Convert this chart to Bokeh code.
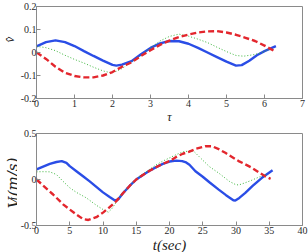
from bokeh.plotting import figure
from bokeh.models import Label, FixedTicker
from bokeh.layouts import column, row
from bokeh.embed import file_html
from bokeh.resources import INLINE

# ---- top panel data (tau, v-hat) ----
top_blue_x = [0, 0.25, 0.5, 0.75, 1.0, 1.25, 1.5, 1.75, 2.0, 2.1, 2.25, 2.5, 2.75, 3.0, 3.25, 3.5, 3.75, 4.0, 4.25, 4.5, 4.75, 5.0, 5.25, 5.4, 5.6, 5.8, 6.0, 6.3]
top_blue_y = [0.027, 0.045, 0.053, 0.045, 0.028, 0.006, -0.015, -0.035, -0.054, -0.057, -0.053, -0.038, -0.008, 0.02, 0.04, 0.05, 0.049, 0.038, 0.02, 0.0, -0.02, -0.04, -0.057, -0.055, -0.036, -0.012, 0.006, 0.028]
top_green_x = [0, 0.25, 0.5, 0.75, 1.0, 1.25, 1.5, 1.75, 1.95, 2.1, 2.25, 2.5, 2.75, 3.0, 3.25, 3.5, 3.75, 4.0, 4.25, 4.5, 4.75, 5.0, 5.25, 5.45, 5.7, 5.9, 6.1, 6.2]
top_green_y = [0.027, 0.021, 0.008, -0.012, -0.03, -0.046, -0.064, -0.08, -0.088, -0.082, -0.07, -0.04, -0.013, 0.02, 0.05, 0.07, 0.08, 0.071, 0.058, 0.043, 0.023, 0.004, -0.013, -0.016, -0.01, -0.002, 0.012, 0.013]
top_red_x = [0, 0.25, 0.5, 0.75, 1.0, 1.25, 1.5, 1.75, 2.0, 2.25, 2.5, 2.75, 3.0, 3.25, 3.5, 3.75, 4.0, 4.25, 4.5, 4.75, 5.0, 5.25, 5.5, 5.75, 6.0, 6.3]
top_red_y = [0.0, -0.028, -0.062, -0.088, -0.102, -0.108, -0.108, -0.1, -0.085, -0.062, -0.043, -0.015, 0.01, 0.033, 0.052, 0.067, 0.078, 0.087, 0.092, 0.093, 0.087, 0.077, 0.064, 0.05, 0.03, 0.003]

# ---- bottom panel data (t [s], V_L [m/s]) ----
bot_blue_x = [0, 1, 2, 3, 3.8, 4.5, 5, 6, 7, 8, 9, 10, 11, 11.8, 12.3, 13, 14, 15, 16, 17, 18, 19, 20, 21, 21.9, 22.5, 23, 23.9, 25, 26, 27.4, 28.5, 29.6, 29.9, 30.5, 31.4, 32.5, 33.9, 35.5]
bot_blue_y = [0.11, 0.14, 0.17, 0.19, 0.2, 0.18, 0.145, 0.09, 0.035, -0.02, -0.08, -0.14, -0.19, -0.228, -0.215, -0.15, -0.07, 0.0, 0.05, 0.095, 0.135, 0.17, 0.195, 0.205, 0.2, 0.185, 0.16, 0.09, 0.03, -0.03, -0.11, -0.17, -0.225, -0.228, -0.2, -0.145, -0.07, 0.018, 0.1]
bot_green_x = [0, 1, 2, 3, 4, 5, 6, 7.5, 9, 10, 10.8, 11.3, 11.8, 12.3, 12.8, 14, 15, 16, 17, 18, 19, 20, 21, 22, 23, 23.6, 24.9, 26, 27.4, 29, 29.9, 30.4, 31.4, 32.4, 33.4, 34.6]
bot_green_y = [0.083, 0.085, 0.083, 0.054, -0.02, -0.09, -0.14, -0.2, -0.28, -0.326, -0.355, -0.32, -0.27, -0.2, -0.16, -0.07, 0.005, 0.06, 0.11, 0.16, 0.2, 0.235, 0.27, 0.3, 0.31, 0.31, 0.217, 0.14, 0.07, -0.02, -0.054, -0.06, -0.035, -0.007, 0.025, 0.054]
bot_red_x = [0, 1, 2.5, 4, 5, 6, 7, 7.8, 9, 10, 11, 12, 13, 14, 15, 16, 17, 18, 19, 20, 21, 22, 22.9, 24, 25.4, 26.4, 27.4, 28.4, 29.4, 30.4, 31.4, 32.4, 33.4, 34.4, 35.2]
bot_red_y = [0.0, -0.065, -0.163, -0.27, -0.326, -0.38, -0.43, -0.44, -0.41, -0.36, -0.3, -0.235, -0.15, -0.07, 0.0, 0.05, 0.095, 0.135, 0.17, 0.2, 0.245, 0.28, 0.3, 0.335, 0.362, 0.362, 0.33, 0.29, 0.245, 0.2, 0.165, 0.127, 0.08, 0.035, 0.007]

top_xticks = [0, 1, 2, 3, 4, 5, 6, 7]
top_yticks = [-0.2, -0.1, 0, 0.1, 0.2]
top_ytick_labels = ["-0.2", "-0.1", "0", "0.1", "0.2"]
bot_xticks = [0, 5, 10, 15, 20, 25, 30, 35, 40]
bot_yticks = [-0.5, 0, 0.5]
bot_ytick_labels = ["-0.5", "0", "0.5"]

BLUE = "#2a4de6"
GREEN = "#3cb43c"
RED = "#e3262d"
SERIF = "Liberation Serif"
AX = "#8a8a8a"
TXT = "#2a2a2a"
STRIP = 17


def style_axis(ax, ticks, labels=None):
    ax.ticker = FixedTicker(ticks=ticks)
    if labels is not None:
        ax.major_label_overrides = {t: s for t, s in zip(ticks, labels)}
    ax.axis_line_color = AX
    ax.major_tick_line_color = AX
    ax.major_tick_in = 4
    ax.major_tick_out = 0
    ax.minor_tick_line_color = None
    ax.major_label_standoff = 1
    ax.major_label_text_font = SERIF
    ax.major_label_text_color = TXT
    ax.major_label_text_font_size = "10px"
    ax.axis_label_text_font = SERIF
    ax.axis_label_text_font_style = "italic"
    ax.axis_label_text_color = "#222222"


def make_fig(fh, xr, yr, xt, yt, ytl, top):
    p = figure(width=308 - STRIP, frame_height=fh, x_range=xr, y_range=yr,
               output_backend="svg", toolbar_location=None,
               min_border_left=36 - STRIP, min_border_right=6,
               min_border_top=top, min_border_bottom=0)
    p.xgrid.visible = False
    p.ygrid.visible = False
    p.outline_line_color = AX
    style_axis(p.xaxis[0], xt)
    style_axis(p.yaxis[0], yt, ytl)
    p.yaxis[0].major_label_standoff = 0
    return p


def make_strip(h, items):
    s = figure(width=STRIP, height=h, x_range=(0, STRIP), y_range=(0, h),
               output_backend="svg", toolbar_location=None,
               x_axis_location=None, y_axis_location=None,
               min_border=0, outline_line_color=None)
    s.xgrid.visible = False
    s.ygrid.visible = False
    for txt, xx, yy, fs, align, base, font in items:
        s.add_layout(Label(x=xx, y=yy, text=txt, angle=1.5708, text_align=align,
                           text_baseline=base, text_font=font, text_font_style="italic",
                           text_font_size=fs, text_color="#222222"))
    return s


p1 = make_fig(92, (0, 7), (-0.2, 0.2), top_xticks, top_yticks, top_ytick_labels, 6)
p1.line(top_blue_x, top_blue_y, line_color=BLUE, line_width=2.4)
p1.line(top_green_x, top_green_y, line_color=GREEN, line_width=1, line_dash="1 2")
p1.line(top_red_x, top_red_y, line_color=RED, line_width=2.4, line_dash="6 3")
p1.xaxis.axis_label = "\u03c4"
p1.xaxis.axis_label_text_font_size = "12px"
p1.xaxis.axis_label_standoff = 0

p2 = make_fig(92, (0, 40), (-0.5, 0.5), bot_xticks, bot_yticks, bot_ytick_labels, 7)
p2.line(bot_blue_x, bot_blue_y, line_color=BLUE, line_width=2.4)
p2.line(bot_green_x, bot_green_y, line_color=GREEN, line_width=1, line_dash="1 2")
p2.line(bot_red_x, bot_red_y, line_color=RED, line_width=2.4, line_dash="6 3")
p2.xaxis.axis_label = "t(sec)"
p2.xaxis.axis_label_text_font_size = "15px"
p2.xaxis.axis_label_standoff = 0

# narrow strips holding the rotated y titles
DV = "DejaVu Serif"
s1 = make_strip(100, [("v\u0302", 9, 50, "13px", "center", "middle", SERIF)])
s2 = make_strip(126, [("V", 13.0, 20, "15px", "left", "alphabetic", DV),
                      ("L", 14.5, 31, "9px", "left", "alphabetic", DV),
                      ("(m/s)", 13.0, 37, "15px", "left", "alphabetic", DV)])

layout = column(row(s1, p1, spacing=0), row(s2, p2, spacing=0), spacing=0)
open("out.html", "w").write(file_html(layout, INLINE))
